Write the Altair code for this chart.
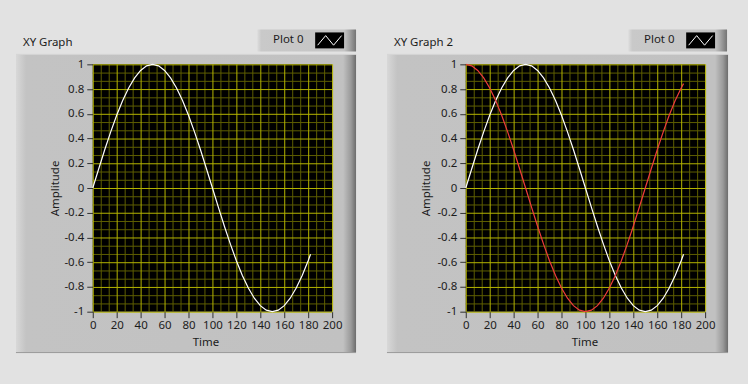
import altair as alt
import pandas as pd

# ---- data ----
time = [0, 5, 10, 15, 20, 25, 30, 35, 40, 45, 50, 55, 60, 65, 70, 75, 80, 85, 90, 95,
        100, 105, 110, 115, 120, 125, 130, 135, 140, 145, 150, 155, 160, 165, 170, 175, 180, 182]
white_series = [0, 0.156, 0.309, 0.454, 0.588, 0.707, 0.809, 0.891, 0.951, 0.988, 1,
                0.988, 0.951, 0.891, 0.809, 0.707, 0.588, 0.454, 0.309, 0.156, 0,
                -0.156, -0.309, -0.454, -0.588, -0.707, -0.809, -0.891, -0.951, -0.988, -1,
                -0.988, -0.951, -0.891, -0.809, -0.707, -0.588, -0.536]
red_series = [1, 0.988, 0.951, 0.891, 0.809, 0.707, 0.588, 0.454, 0.309, 0.156, 0,
              -0.156, -0.309, -0.454, -0.588, -0.707, -0.809, -0.891, -0.951, -0.988, -1,
              -0.988, -0.951, -0.891, -0.809, -0.707, -0.588, -0.454, -0.309, -0.156, 0,
              0.156, 0.309, 0.454, 0.588, 0.707, 0.809, 0.844]
x_ticks = [0, 20, 40, 60, 80, 100, 120, 140, 160, 180, 200]
y_ticks = [-1, -0.8, -0.6, -0.4, -0.2, 0, 0.2, 0.4, 0.6, 0.8, 1]
panel_titles = ["XY Graph", "XY Graph 2"]
legend_label = "Plot 0"
x_title = "Time"
y_title = "Amplitude"

# grid positions (3 minor divisions per major division)
x_minor = [round(i * 20 / 3, 4) for i in range(31) if i % 3]
y_minor = [round(-1 + i * 0.2 / 3, 5) for i in range(31) if i % 3]

FONT = "Noto Sans"
FS = 11.5
TXT = "#1c1c1c"
W, H = 240, 248
MAJOR = "#b4b400"
MINOR = "#5e5e00"

xscale = alt.Scale(domain=[0, 200], nice=False, zero=False)
yscale = alt.Scale(domain=[-1, 1], nice=False, zero=False)


def grad(stops):
    return alt.LinearGradient(
        gradient="linear", x1=0, x2=1, y1=0, y2=0,
        stops=[alt.GradientStop(offset=o, color=c) for o, c in stops])


def one():
    return alt.Chart(alt.Data(values=[{"k": 1}]))


def panel(series, title, left, right, xtitle_x, ytitle_x, leg_left):
    xaxis = alt.Axis(values=x_ticks, grid=False, domain=False, ticks=True, tickSize=6,
                     tickColor="#303030", labelFont=FONT, labelFontSize=FS, labelColor=TXT,
                     labelPadding=2, labelFlush=False, labelOverlap=False,
                     labelExpr="'' + datum.value", title=x_title, titleFont=FONT,
                     titleFontSize=FS, titleFontWeight="normal", titleColor=TXT,
                     titleX=xtitle_x, titleY=31, titleAlign="center", titleBaseline="middle",
                     zindex=1)
    yaxis = alt.Axis(values=y_ticks, grid=False, domain=False, ticks=True, tickSize=6,
                     tickColor="#303030", labelFont=FONT, labelFontSize=FS, labelColor=TXT,
                     labelPadding=3, labelOverlap=False, labelFlush=False,
                     labelExpr="'' + datum.value", title=y_title, titleFont=FONT,
                     titleFontSize=FS, titleFontWeight="normal", titleColor=TXT,
                     titleAngle=270, titleX=ytitle_x, titleY=H / 2, titleAlign="center",
                     titleBaseline="middle", zindex=1)

    frame = one().mark_rect(color=grad([(0, "#d8d8d8"), (0.03, "#c3c3c3"), (0.962, "#c1c1c1"),
                                         (0.985, "#9a9a9a"), (1, "#6c6c6c")])).encode(
        x=alt.value(left), x2=alt.value(right), y=alt.value(-10), y2=alt.value(289))
    top_edge = one().mark_rule(color="#d6d6d6").encode(
        x=alt.value(left), x2=alt.value(right), y=alt.value(-10))
    bottom_edge = one().mark_rule(color="#9a9a9a").encode(
        x=alt.value(left), x2=alt.value(right), y=alt.value(289))
    plot_bg = one().mark_rect(color="black").encode(
        x=alt.value(0), x2=alt.value(W), y=alt.value(0), y2=alt.value(H))

    gx_minor = alt.Chart(pd.DataFrame({"v": x_minor})).mark_rule(
        color=MINOR, strokeWidth=1, xOffset=0.5).encode(
        x=alt.X("v:Q", scale=xscale, axis=xaxis))
    gy_minor = alt.Chart(pd.DataFrame({"v": y_minor})).mark_rule(
        color=MINOR, strokeWidth=1, yOffset=0.5).encode(
        y=alt.Y("v:Q", scale=yscale, axis=yaxis))
    gx_major = alt.Chart(pd.DataFrame({"v": x_ticks})).mark_rule(
        color=MAJOR, strokeWidth=1, xOffset=0.5).encode(
        x=alt.X("v:Q", scale=xscale, axis=xaxis))
    gy_major = alt.Chart(pd.DataFrame({"v": y_ticks})).mark_rule(
        color=MAJOR, strokeWidth=1, yOffset=0.5).encode(
        y=alt.Y("v:Q", scale=yscale, axis=yaxis))

    curve_layers = []
    for name, vals, col in series:
        df = pd.DataFrame({"Time": time, "Amplitude": vals})
        curve_layers.append(
            alt.Chart(df).mark_line(strokeWidth=1.2, color=col).encode(
                x=alt.X("Time:Q", scale=xscale, axis=xaxis),
                y=alt.Y("Amplitude:Q", scale=yscale, axis=yaxis),
                order=alt.Order("Time:Q")))

    ttl = one().mark_text(align="left", baseline="middle", font=FONT, fontSize=FS,
                          color=TXT).encode(x=alt.value(left + 7), y=alt.value(-21),
                                            text=alt.value(title))
    leg_box = one().mark_rect(color=grad([(0, "#dcdcdc"), (0.04, "#c9c9c9"), (0.88, "#c4c4c4"),
                                           (0.93, "#a6a6a6"), (1, "#747474")])).encode(
        x=alt.value(leg_left), x2=alt.value(leg_left + 99), y=alt.value(-35), y2=alt.value(-13))
    leg_text = one().mark_text(align="center", baseline="middle", font=FONT, fontSize=FS,
                               color=TXT).encode(x=alt.value(leg_left + 31), y=alt.value(-24),
                                                 text=alt.value(legend_label))
    leg_sw = one().mark_rect(color="black").encode(
        x=alt.value(leg_left + 58), x2=alt.value(leg_left + 87), y=alt.value(-32), y2=alt.value(-16))
    leg_sym = one().mark_point(shape="M-1,0.4L-0.33,-0.4L0.33,0.4L1,-0.4", filled=False,
                               stroke="white", strokeWidth=1, size=576, opacity=1).encode(
        x=alt.value(leg_left + 72.5), y=alt.value(-24))

    return alt.layer(frame, top_edge, bottom_edge, ttl, leg_box, leg_text, leg_sw, leg_sym,
                     plot_bg, gx_minor, gy_minor, gx_major, gy_major, *curve_layers).properties(
        width=W, height=H)


p1 = panel([("Plot 0", white_series, "#ffffff")], panel_titles[0], -77, 264, 113, -37, 165)
p2 = panel([("Plot 0", white_series, "#ffffff"), ("Plot 1", red_series, "#f03c3c")],
           panel_titles[1], -79, 263, 119, -39, 163)

chart = alt.hconcat(p1, p2, spacing=134, bounds="flush").properties(
    padding={"left": 15, "top": 29, "right": 19, "bottom": 31},
    background="#e2e2e2",
).configure_view(stroke=None)

chart.save("out.html", embed_options={"renderer": "svg", "actions": False})
